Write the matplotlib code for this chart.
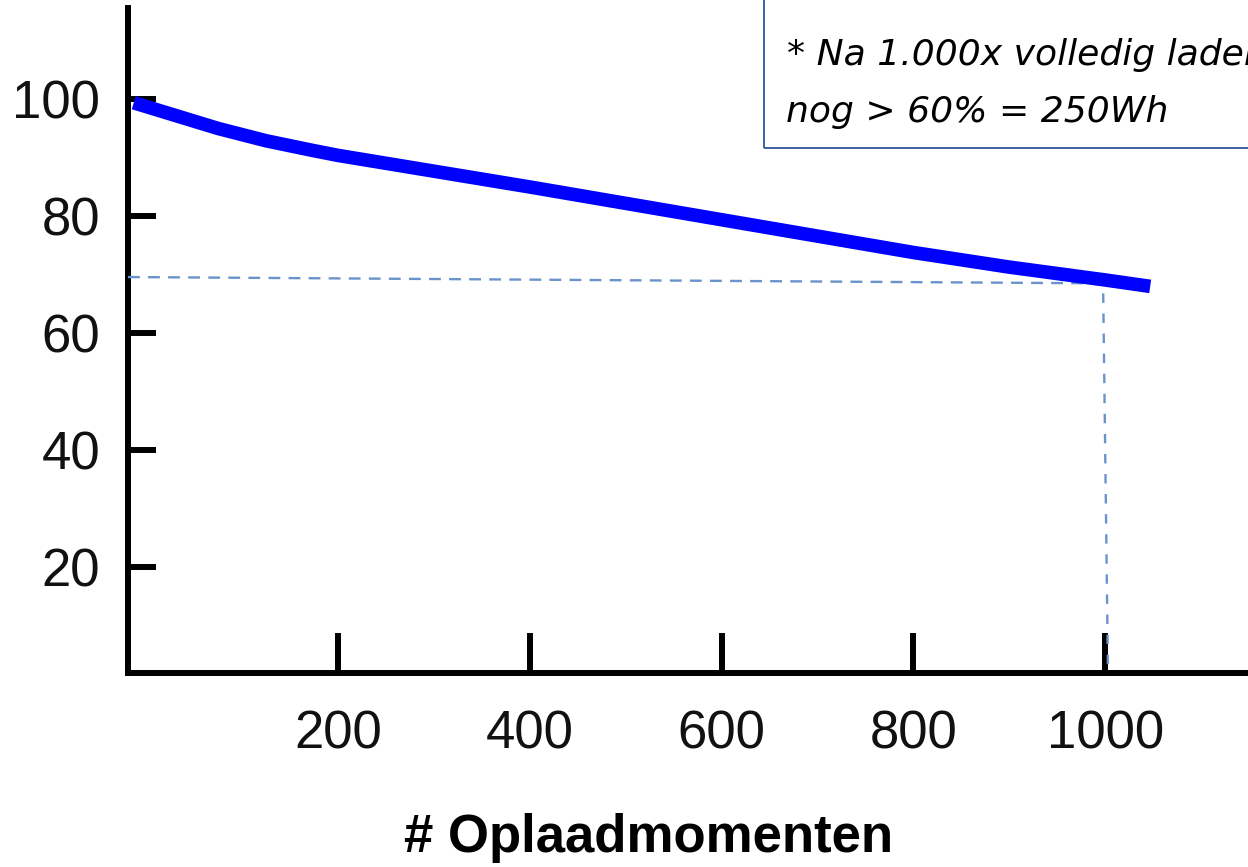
import matplotlib
matplotlib.use("Agg")
import matplotlib.pyplot as plt
from matplotlib.patches import Rectangle

cycles = [-13, 25, 75, 125, 175, 200, 300, 400, 500, 600, 700, 800, 900, 950, 1000, 1047]
capacity = [99.4, 97.5, 95.0, 92.9, 91.2, 90.4, 87.7, 85.0, 82.2, 79.4, 76.6, 73.8, 71.3, 70.2, 69.1, 68.0]

# hulplijnen bij 1000 cycli
ref_h_x = [-19, 1019]
ref_h_y = [69.6, 68.5]
ref_v_x = [998, 1003]
ref_v_y = [66.8, 1.9]

xticks = [200, 400, 600, 800, 1000]
yticks = [20, 40, 60, 80, 100]

note_lines = ["* Na 1.000x volledig laden", "nog > 60% = 250Wh"]
xlabel = "# Oplaadmomenten"

W, H = 1248, 867
fig = plt.figure(figsize=(W / 100, H / 100), dpi=100)
ax = fig.add_axes([128 / W, (H - 673) / H, (W - 128) / W, (673 - 8) / H])

ax.plot(cycles, capacity, color="#0000ff", lw=9.8, solid_capstyle="butt",
        solid_joinstyle="round", zorder=5)
ax.plot(ref_h_x, ref_h_y, color="#6a93cc", lw=1.7, ls=(0, (5, 3.5)), zorder=4)
ax.plot(ref_v_x, ref_v_y, color="#6a93cc", lw=1.7, ls=(0, (4, 4.5)), zorder=4)

ax.set_xlim(-19, 1149)
ax.set_ylim(1.9, 115.6)
ax.set_xticks(xticks)
ax.set_yticks(yticks)

for s in ["top", "right"]:
    ax.spines[s].set_visible(False)
for s in ["left", "bottom"]:
    ax.spines[s].set_linewidth(4.3)
    ax.spines[s].set_capstyle("projecting")

ax.tick_params(axis="x", direction="in", length=29, width=4.3, pad=26)
ax.tick_params(axis="y", direction="in", length=20, width=4.3, pad=20)
for lab in ax.get_xticklabels() + ax.get_yticklabels():
    lab.set_fontfamily("Liberation Sans")
    lab.set_fontsize(38)
    lab.set_color("#111111")

fig.text(649 / W, 1 - 838 / H, xlabel, ha="center", va="center",
         fontfamily="Liberation Sans", fontweight="bold", fontsize=38)

# kader met toelichting, loopt buiten beeld door (zoals in het origineel)
fig.patches.append(Rectangle((764 / W, 1 - 148 / H), 1.0, 1.0, transform=fig.transFigure,
                             fill=False, edgecolor="#2f5597", lw=1.3))
fig.text(787 / W, 1 - 65 / H, note_lines[0], ha="left", va="baseline",
         fontfamily="DejaVu Sans", style="italic", fontsize=26)
fig.text(786 / W, 1 - 122 / H, note_lines[1], ha="left", va="baseline",
         fontfamily="DejaVu Sans", style="italic", fontsize=26)

fig.savefig("out.png", dpi=100)
